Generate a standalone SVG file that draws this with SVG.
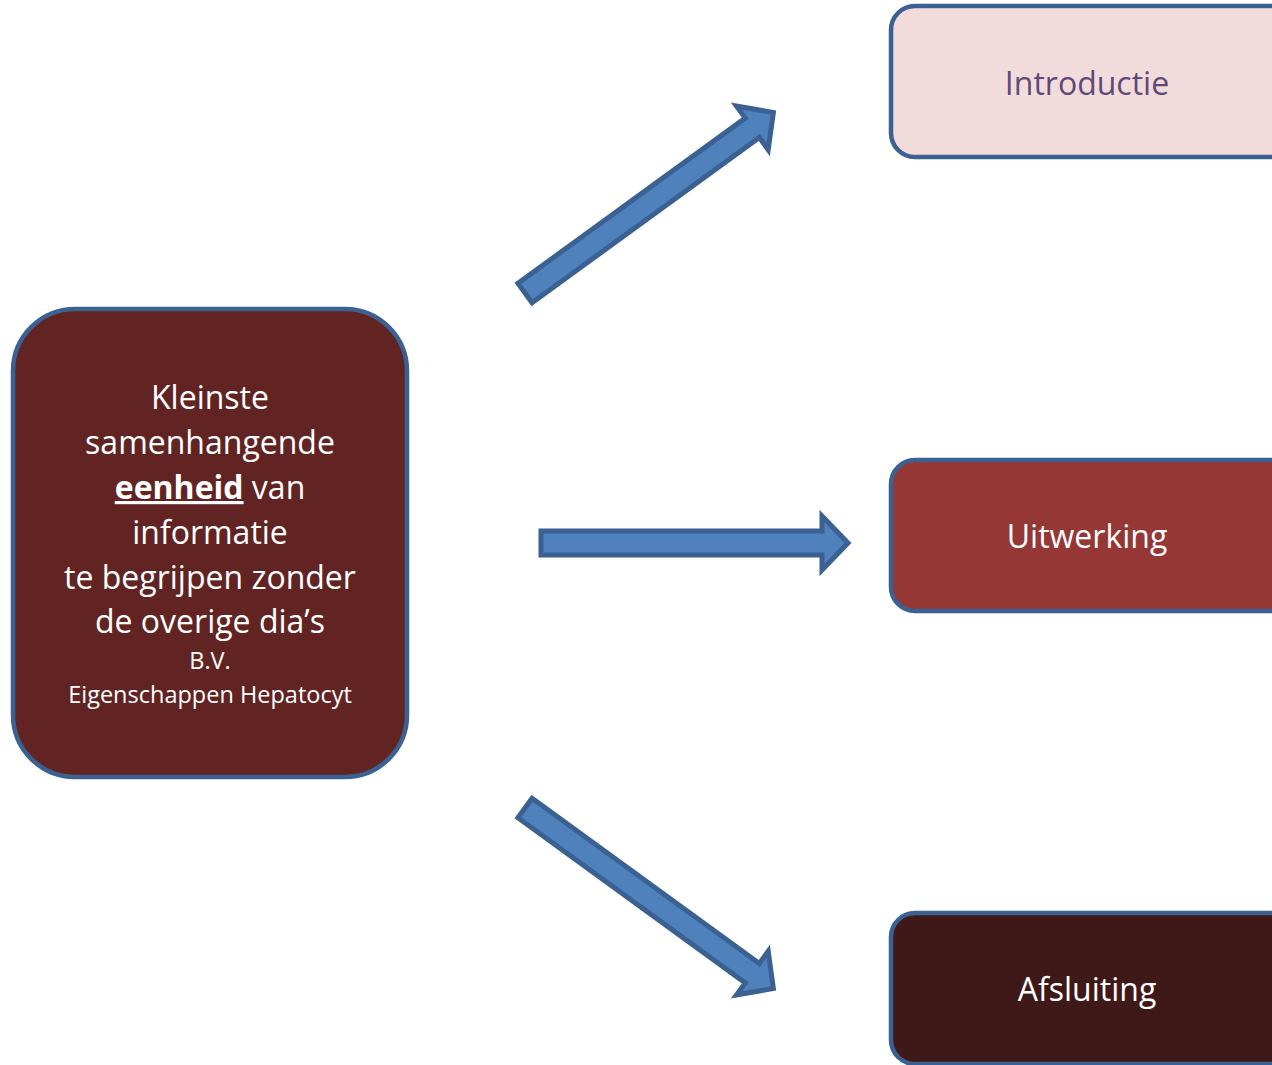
<svg xmlns="http://www.w3.org/2000/svg" width="1272" height="1065" viewBox="0 0 1272 1065">
<style>
.box{stroke:#3A6191;stroke-width:4.5}
.arrow{fill:#4F81BD;stroke:#3A6191;stroke-width:5;stroke-linejoin:miter}
.t{font-family:"Open Sans","Noto Sans","Liberation Sans",sans-serif;text-anchor:middle}
.big{font-size:32px;fill:#FFFFFF}
.small{font-size:23.5px;fill:#FFFFFF}
.lbl{font-size:32px}
</style>
<defs>
<polygon id="arr" points="0,-12 281,-12 281,-27 307,0 281,27 281,12 0,12"/>
</defs>
<rect width="1272" height="1065" fill="#FFFFFF"/>
<g id="connectors">
<use href="#arr" class="arrow" transform="translate(525,293) rotate(-36)"/>
<use href="#arr" class="arrow" transform="translate(541,543)"/>
<use href="#arr" class="arrow" transform="translate(525,808) rotate(36)"/>
</g>
<g id="node-main">
<rect class="box" x="13" y="309" width="394" height="468" rx="62" fill="#622423"/>
<text class="t big" x="210" y="409">Kleinste</text>
<text class="t big" x="210" y="454">samenhangende</text>
<text class="t big" x="210" y="499"><tspan font-weight="bold" text-decoration="underline">eenheid</tspan> van</text>
<text class="t big" x="210" y="544">informatie</text>
<text class="t big" x="210" y="589">te begrijpen zonder</text>
<text class="t big" x="210" y="633">de overige dia’s</text>
<text class="t small" x="210" y="669">B.V.</text>
<text class="t small" x="210" y="703">Eigenschappen Hepatocyt</text>
</g>
<g id="node-introductie">
<rect class="box" x="891" y="6" width="420" height="151" rx="24" fill="#F2DCDB"/>
<text class="t lbl" x="1087" y="95" fill="#5F497A">Introductie</text>
</g>
<g id="node-uitwerking">
<rect class="box" x="891" y="460" width="420" height="151" rx="24" fill="#953735"/>
<text class="t lbl" x="1087" y="548" fill="#FFFFFF">Uitwerking</text>
</g>
<g id="node-afsluiting">
<rect class="box" x="891" y="913" width="420" height="151" rx="24" fill="#3F1918"/>
<text class="t lbl" x="1087" y="1001" fill="#FFFFFF">Afsluiting</text>
</g>
</svg>
